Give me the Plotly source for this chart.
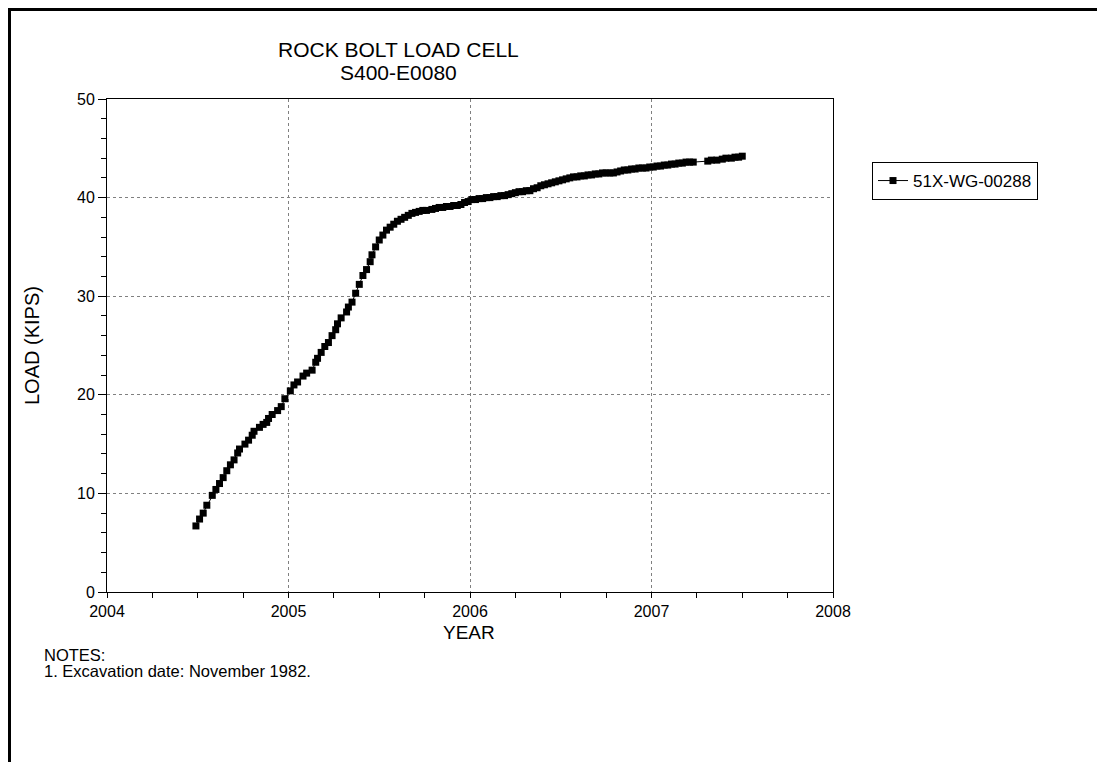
import plotly.graph_objects as go

# ---- data ----
decimal_year = [
    2004.49, 2004.51, 2004.53, 2004.55, 2004.58, 2004.60, 2004.62, 2004.64, 2004.66, 2004.68,
    2004.70, 2004.72, 2004.73, 2004.76, 2004.78, 2004.80, 2004.81, 2004.84, 2004.86, 2004.88,
    2004.89, 2004.91, 2004.94, 2004.96, 2004.98, 2005.01, 2005.03, 2005.05, 2005.08, 2005.10,
    2005.13, 2005.15, 2005.16, 2005.18, 2005.20, 2005.22, 2005.24, 2005.26, 2005.27, 2005.29,
    2005.32, 2005.33, 2005.35, 2005.37, 2005.39, 2005.41, 2005.43, 2005.45, 2005.46, 2005.48,
    2005.50, 2005.52, 2005.54, 2005.56, 2005.58, 2005.60, 2005.62, 2005.64, 2005.66, 2005.68,
    2005.70, 2005.72, 2005.74, 2005.76, 2005.79, 2005.81, 2005.83, 2005.85, 2005.87, 2005.89,
    2005.91, 2005.93, 2005.95, 2005.97, 2005.99, 2006.01, 2006.03, 2006.05, 2006.07, 2006.09,
    2006.11, 2006.13, 2006.15, 2006.17, 2006.19, 2006.21, 2006.23, 2006.25, 2006.27, 2006.29,
    2006.31, 2006.33, 2006.35, 2006.37, 2006.39, 2006.41, 2006.43, 2006.45, 2006.47, 2006.49,
    2006.51, 2006.53, 2006.55, 2006.57, 2006.59, 2006.61, 2006.63, 2006.65, 2006.67, 2006.69,
    2006.71, 2006.73, 2006.75, 2006.77, 2006.79, 2006.81, 2006.83, 2006.85, 2006.87, 2006.89,
    2006.91, 2006.93, 2006.95, 2006.97, 2006.99, 2007.01, 2007.03, 2007.05, 2007.07, 2007.09,
    2007.11, 2007.13, 2007.15, 2007.17, 2007.19, 2007.21, 2007.23, 2007.31, 2007.33, 2007.36,
    2007.39, 2007.41, 2007.44, 2007.46, 2007.48, 2007.50,
]
load_kips = [
    6.7, 7.4, 8.0, 8.8, 9.8, 10.4, 11.0, 11.6, 12.3, 12.9,
    13.4, 14.1, 14.5, 15.0, 15.4, 15.9, 16.3, 16.7, 17.0, 17.2,
    17.6, 18.0, 18.4, 18.8, 19.6, 20.4, 21.0, 21.3, 21.9, 22.2,
    22.5, 23.3, 23.7, 24.3, 24.9, 25.3, 26.0, 26.6, 27.2, 27.8,
    28.4, 28.9, 29.4, 30.3, 31.2, 32.1, 32.7, 33.5, 34.2, 35.0,
    35.7, 36.2, 36.7, 37.0, 37.3, 37.6, 37.8, 38.0, 38.2, 38.4,
    38.5, 38.6, 38.7, 38.7, 38.8, 38.9, 39.0, 39.0, 39.1, 39.1,
    39.2, 39.2, 39.3, 39.5, 39.6, 39.8, 39.8, 39.9, 39.9, 40.0,
    40.0, 40.1, 40.1, 40.2, 40.2, 40.3, 40.4, 40.5, 40.6, 40.6,
    40.7, 40.7, 40.9, 41.0, 41.2, 41.3, 41.4, 41.5, 41.6, 41.7,
    41.8, 41.9, 42.0, 42.1, 42.1, 42.2, 42.2, 42.3, 42.3, 42.4,
    42.4, 42.5, 42.5, 42.5, 42.5, 42.6, 42.7, 42.8, 42.8, 42.9,
    42.9, 43.0, 43.0, 43.0, 43.1, 43.1, 43.2, 43.2, 43.3, 43.3,
    43.4, 43.4, 43.5, 43.5, 43.6, 43.6, 43.6, 43.7, 43.8, 43.8,
    43.9, 44.0, 44.0, 44.1, 44.1, 44.2,
]
series_name = "51X-WG-00288"
x_tick_values = [2004, 2005, 2006, 2007, 2008]
x_tick_labels = ["2004", "2005", "2006", "2007", "2008"]
y_tick_values = [0, 10, 20, 30, 40, 50]
title_lines = ["ROCK BOLT LOAD CELL", "S400-E0080"]
x_title = "YEAR"
y_title = "LOAD (KIPS)"
notes = ["NOTES:", "1. Excavation date: November 1982."]

# ---- layout geometry (screen pixels; the page body adds an 8px offset) ----
OFF = 8
W, H = 1105 - OFF, 762 - OFF
L, R, T, B = 107 - OFF, 833 - OFF, 99 - OFF, 592 - OFF
PW, PH = R - L, B - T


def px(xs):
    """screen x -> paper x"""
    return (xs - OFF - L) / PW


def py(ys):
    """screen y -> paper y"""
    return (B - (ys - OFF)) / PH


FONT = "Liberation Sans, Arial, sans-serif"

fig = go.Figure()
fig.add_trace(go.Scatter(
    x=decimal_year, y=load_kips, mode="lines+markers", name=series_name,
    line=dict(color="black", width=1),
    marker=dict(symbol="square", size=7, color="black"),
))

axis_common = dict(
    showline=True, linecolor="black", linewidth=1, mirror=True,
    showgrid=True, gridcolor="#808080", griddash="dot", gridwidth=1,
    zeroline=False, ticks="outside", tickcolor="black",
    tickfont=dict(family=FONT, size=16, color="black"),
)

fig.update_layout(
    width=W, height=H,
    margin=dict(l=L, r=W - R, t=T, b=H - B, pad=0),
    paper_bgcolor="white", plot_bgcolor="white",
    font=dict(family=FONT, color="black"),
    showlegend=True,
    legend=dict(
        x=px(872), y=py(162), xanchor="left", yanchor="top",
        bordercolor="black", borderwidth=1, bgcolor="white",
        font=dict(family=FONT, size=17, color="black"),
        itemwidth=30, tracegroupgap=0,
    ),
    xaxis=dict(
        range=[2004, 2008], tickmode="array", tickvals=x_tick_values, ticktext=x_tick_labels,
        ticklen=5, minor=dict(dtick=0.25, ticks="outside", ticklen=5, tickcolor="black", showgrid=False),
        **axis_common,
    ),
    yaxis=dict(
        range=[0, 50], tickmode="array", tickvals=y_tick_values,
        ticklen=8, minor=dict(dtick=2, ticks="outside", ticklen=5, tickcolor="black", showgrid=False),
        **axis_common,
    ),
)

annotations = [
    dict(text=title_lines[0], x=px(398), y=py(50), font=dict(size=21)),
    dict(text=title_lines[1], x=px(398), y=py(73), font=dict(size=21)),
    dict(text=x_title, x=px(469), y=py(632), font=dict(size=19)),
    dict(text=y_title, x=px(32), y=py(346), font=dict(size=20), textangle=-90),
    dict(text=notes[0], x=px(42), y=py(655), xanchor="left", font=dict(size=16.5)),
    dict(text=notes[1], x=px(42), y=py(671), xanchor="left", font=dict(size=16.5)),
]
for a in annotations:
    a.setdefault("xanchor", "center")
    a.update(xref="paper", yref="paper", yanchor="middle", showarrow=False)
    a["font"].update(family=FONT, color="black")
    fig.add_annotation(**a)

# outer frame around the page (as close to the page edge as the figure allows)
fig.add_shape(type="rect", xref="paper", yref="paper",
              x0=px(OFF + 1.5), x1=px(1103.5), y0=py(790), y1=py(OFF + 1.5),
              line=dict(color="black", width=3), fillcolor="rgba(0,0,0,0)", layer="above")

fig.write_html("out.html")
